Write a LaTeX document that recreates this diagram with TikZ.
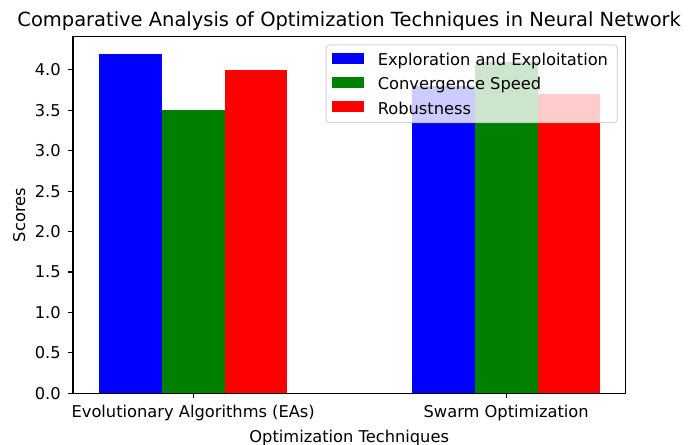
\documentclass[tikz,border=0pt]{standalone}
\usepackage{fontspec}
\setmainfont{DejaVu Sans}
\usepackage{tikz}
\usetikzlibrary{positioning}
\definecolor{BarBlue}{RGB}{0,0,255}
\definecolor{BarGreen}{RGB}{0,128,0}
\definecolor{BarRed}{RGB}{255,0,0}
\definecolor{FrameGray}{HTML}{CCCCCC}

\begin{document}
\begin{tikzpicture}[
    x=0.75pt, y=-0.75pt,
    lbl/.style={inner sep=0pt, font=\fontsize{12.2}{14.6}\selectfont, text height=9.3pt, text depth=2.9pt},
    ytick/.style={lbl, anchor=east, text height=8.9pt, text depth=0pt},
    xtick/.style={lbl, anchor=north},
    spine/.style={draw=black, line width=0.9pt},
    legendbox/.style={draw=FrameGray, fill=white, opacity=0.8, rounded corners=2.5pt, line width=0.75pt},
    handle/.style={minimum width=24.4pt, minimum height=8.5pt, inner sep=0pt, draw=none},
    entry/.style={lbl, text height=11pt, text depth=0pt, right=9.75pt of #1}
]
    \useasboundingbox (0,0) rectangle (689,445);

    \begin{scope}[shift={(193.2,393.3)}, x=234.75pt, y=60.645pt]
        \fill[BarBlue]  (-0.3,0) rectangle (-0.1,4.2);
        \fill[BarGreen] (-0.1,0) rectangle (0.1,3.5);
        \fill[BarRed]   (0.1,0) rectangle (0.3,4.0);
        \fill[BarBlue]  (0.7,0) rectangle (0.9,3.8);
        \fill[BarGreen] (0.9,0) rectangle (1.1,4.1);
        \fill[BarRed]   (1.1,0) rectangle (1.3,3.7);

        \draw[spine] (-0.384,0) rectangle (1.3805,4.41);
        \foreach \v [count=\k] in {0.0,0.5,1.0,1.5,2.0,2.5,3.0,3.5,4.0} {
            \draw[spine] (-0.384,\v) -- ++(-3.6pt,0pt);
            \node[ytick, xshift=-9pt] (ytick\k) at (-0.384,\v) {\v};
        }
        \draw[spine] (0,0) -- ++(0pt,-3.6pt);
        \draw[spine] (1,0) -- ++(0pt,-3.6pt);
        \node[xtick, yshift=-8.8pt] (eas) at (0,0) {Evolutionary Algorithms (EAs)};
        \node[xtick, yshift=-8.8pt] (swarm) at (1,0) {Swarm Optimization};
    \end{scope}

    \node[lbl, anchor=north] (xlabel) at (349.2,429.5) {Optimization Techniques};
    \node[lbl, anchor=base, rotate=90] (ylabel) at (25,215) {Scores};
    \node[lbl, anchor=base, font=\fontsize{14.6}{17.5}\selectfont] (title) at (349.2,27) {Comparative Analysis of Optimization Techniques in Neural Network};

    \draw[legendbox] (326,45) rectangle (617.3,122.7);
    \node[handle, fill=BarBlue] (hexplore) at (348,58.3) {};
    \node[handle, fill=BarGreen] (hconverge) at (348,82.5) {};
    \node[handle, fill=BarRed] (hrobust) at (348,106.8) {};
    \node[entry=hexplore] (explore) {Exploration and Exploitation};
    \node[entry=hconverge] (converge) {Convergence Speed};
    \node[entry=hrobust] (robust) {Robustness};
\end{tikzpicture}
\end{document}
